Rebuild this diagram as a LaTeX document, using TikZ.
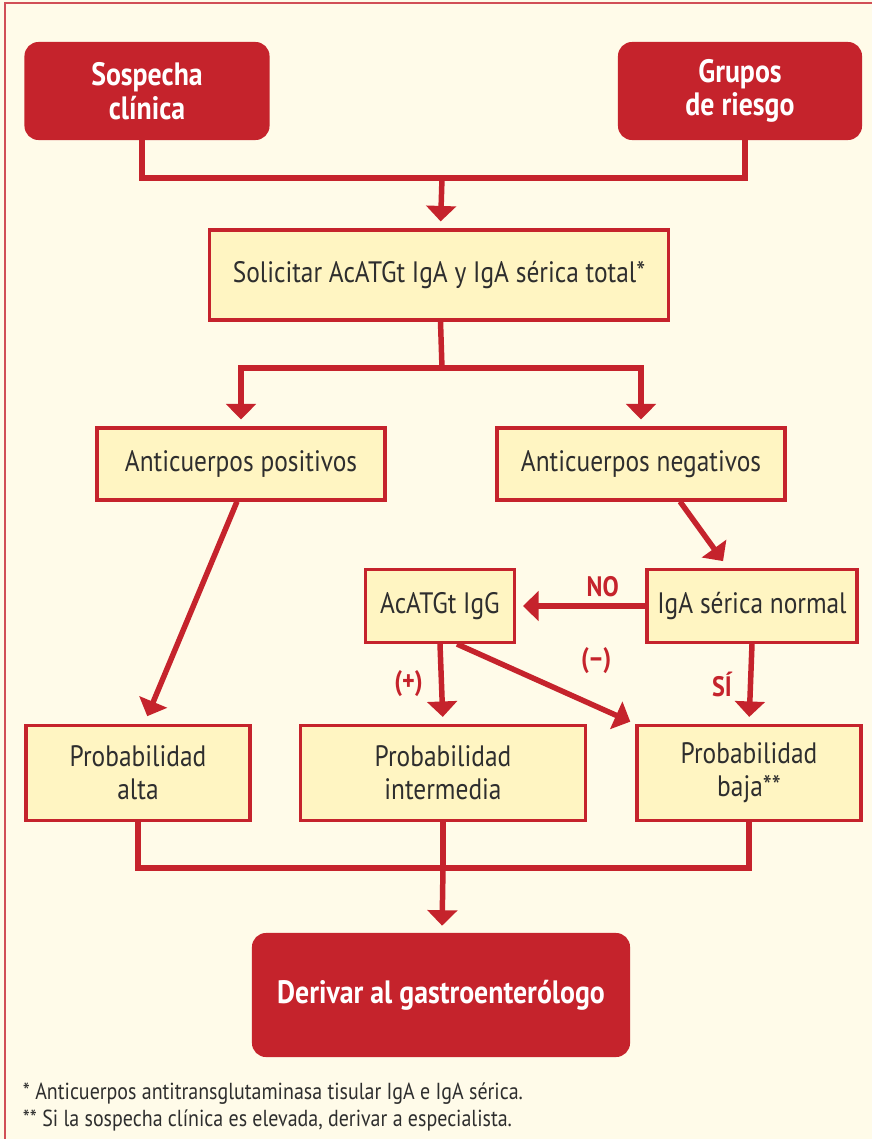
\documentclass[tikz,border=0pt]{standalone}
\usepackage{fontspec}
\setmainfont[FakeStretch=0.86]{PT Sans}
\usepackage{tikz}
\usetikzlibrary{calc}
\usetikzlibrary{arrows.meta}
\definecolor{flowred}{HTML}{C5232C}
\definecolor{boxyellow}{HTML}{FFF5C2}
\definecolor{paper}{HTML}{FFFBE9}
\definecolor{inkgray}{HTML}{2E2E2E}

\begin{document}
\begin{tikzpicture}[%
    x=0.025cm, y=-0.025cm,
    block/.style={
      rectangle,
      draw=flowred,
      line width=2.2pt,
      fill=boxyellow,
      text=inkgray,
      align=center,
      inner sep=0pt,
      font=\fontsize{21}{23.5}\selectfont
    },
    redblock/.style={
      rectangle,
      rounded corners=10pt,
      fill=flowred,
      text=white,
      align=center,
      inner sep=0pt,
      font=\fontsize{23}{24}\selectfont\bfseries
    },
    branch/.style={
      text=flowred,
      font=\fontsize{20}{22}\selectfont\bfseries
    },
    link/.style={draw=flowred, line width=3.9pt},
    >={Triangle[length=11pt,width=21pt]}
    ]
    \useasboundingbox (0,0) rectangle (872,1139);
    \fill[paper] (0,0) rectangle (872,1139);
    \draw[flowred!80, line width=1.4pt] (5,1139) -- (5,3) -- (872,3);

    \draw (147,91) node[redblock, minimum width=6.125cm, minimum height=2.45cm] (sosp) {Sospecha\\clínica};
    \draw (740,91) node[redblock, minimum width=6.1cm, minimum height=2.45cm] (grup) {Grupos\\de riesgo};
    \draw (439,275) node[block, minimum width=11.45cm, minimum height=2.25cm] (sol) {Solicitar AcATGt IgA y IgA sérica total*};
    \draw (241,464) node[block, minimum width=7.2cm, minimum height=1.8cm] (pos) {Anticuerpos positivos};
    \draw (641,464) node[block, minimum width=7.2cm, minimum height=1.8cm] (neg) {Anticuerpos negativos};
    \draw (440,606) node[block, minimum width=3.725cm, minimum height=1.825cm] (igg) {AcATGt IgG};
    \draw (752,606) node[block, minimum width=5.25cm, minimum height=1.825cm] (iga) {IgA sérica normal};
    \draw (138,773) node[block, minimum width=5.6cm, minimum height=2.375cm] (alta) {Probabilidad\\alta};
    \draw (443,773) node[block, minimum width=7.125cm, minimum height=2.375cm] (inter) {Probabilidad\\intermedia};
    \draw (749,773) node[block, minimum width=5.6cm, minimum height=2.375cm] (baja) {Probabilidad\\baja**};
    \draw (441,995) node[redblock, minimum width=9.45cm, minimum height=3.1cm] (deriv) {Derivar al gastroenterólogo};

    \coordinate (top) at (442,178);
    \coordinate (split) at (442,368);
    \coordinate (join) at (443,868);

    % entradas
    \draw [link] ($(sosp.south)+(-5,0)$) |- (top) -| ($(grup.south)+(5,0)$);
    \draw [link,->,shorten >=5pt] (top) -- (sol);

    % resultado de la serologia
    \draw [link] (sol) -- (split);
    \draw [link,->,shorten >=5pt] (split) -| (pos);
    \draw [link,->,shorten >=5pt] (split) -| (neg);
    \draw [link,->,shorten >=6pt] ($(pos.south)+(-4,0)$) -- ($(alta.north)+(6,0)$);
    \draw [link,->,shorten >=6pt] ($(neg.south)+(39,0)$) -- ($(iga.north)+(-24,0)$);

    % IgA normal o no
    \draw [link,->,shorten >=5pt] (iga.west) -- (igg.east) node[branch,pos=0.33,above=1pt] {NO};
    \draw [link,->,shorten >=5pt] (iga.south) -- (baja.north) node[branch,midway,left=8pt] {SÍ};
    \draw [link,->,shorten >=5pt] (igg.south) -- (inter.north) node[branch,midway,left=8pt] {(+)};
    \draw [link,->,shorten >=4pt] ($(igg.south)+(17,0)$) -- ($(baja.north west)+(0,0)$) node[branch,pos=0.78,above=18pt] {(–)};

    % salida
    \draw [link] (alta.south) |- (join) -| (baja.south);
    \draw [link] (inter.south) -- (join);
    \draw [link,->,shorten >=5pt] (join) -- (deriv);

    \draw (18,1094) node[anchor=west, text=inkgray, font=\fontsize{16.5}{19}\selectfont] (nota1) {* Anticuerpos antitransglutaminasa tisular IgA e IgA sérica.};
    \draw (18,1120) node[anchor=west, text=inkgray, font=\fontsize{16.5}{19}\selectfont] (nota2) {** Si la sospecha clínica es elevada, derivar a especialista.};
  \end{tikzpicture}
\end{document}
